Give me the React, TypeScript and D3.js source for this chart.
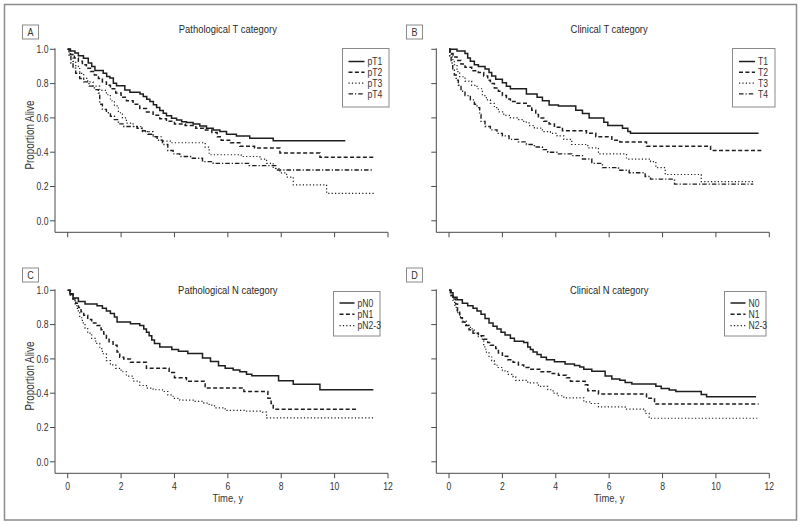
import React from "react";
import * as d3 from "d3";

type Pt = [number, number];

// ---------- data ----------
const xTicks = [0, 2, 4, 6, 8, 10, 12];
const yTicks = [0, 0.2, 0.4, 0.6, 0.8, 1.0];

const pT1: Pt[] = [[0,1],[0.1,0.99],[0.27,0.978],[0.4,0.962],[0.59,0.948],[0.77,0.92],[0.9,0.9],[1.02,0.876],[1.33,0.861],[1.46,0.841],[1.58,0.832],[1.71,0.802],[1.83,0.787],[2.14,0.763],[2.33,0.75],[2.71,0.74],[2.83,0.725],[2.96,0.709],[3.08,0.695],[3.21,0.676],[3.33,0.66],[3.45,0.643],[3.58,0.627],[3.7,0.612],[3.89,0.598],[4.08,0.588],[4.27,0.578],[4.45,0.573],[4.7,0.565],[4.95,0.553],[5.2,0.54],[5.45,0.53],[5.7,0.52],[5.95,0.505],[6.32,0.495],[6.82,0.481],[7.7,0.467],[10.4,0.467]];
const pT2: Pt[] = [[0,1],[0.1,0.97],[0.25,0.95],[0.4,0.93],[0.55,0.91],[0.7,0.89],[0.85,0.87],[1.0,0.85],[1.15,0.83],[1.3,0.81],[1.45,0.79],[1.6,0.77],[1.8,0.745],[2.0,0.72],[2.2,0.7],[2.45,0.68],[2.7,0.655],[2.95,0.635],[3.2,0.615],[3.45,0.595],[3.7,0.58],[4.0,0.565],[4.4,0.555],[4.8,0.54],[5.1,0.53],[5.4,0.515],[5.6,0.49],[5.75,0.47],[6.1,0.455],[6.45,0.435],[7.0,0.425],[7.95,0.395],[9.45,0.37],[11.5,0.37]];
const pT3: Pt[] = [[0,1],[0.1,0.97],[0.2,0.93],[0.3,0.9],[0.45,0.86],[0.6,0.83],[0.75,0.81],[0.95,0.785],[1.2,0.76],[1.45,0.735],[1.6,0.7],[1.75,0.67],[1.9,0.63],[2.05,0.6],[2.2,0.57],[2.45,0.55],[2.8,0.52],[3.2,0.49],[3.5,0.465],[3.85,0.455],[5.15,0.43],[5.3,0.385],[6.5,0.375],[7.2,0.36],[7.45,0.335],[7.7,0.305],[7.95,0.28],[8.2,0.255],[8.45,0.21],[9.7,0.16],[11.5,0.16]];
const pT4: Pt[] = [[0,1],[0.05,0.96],[0.12,0.92],[0.2,0.89],[0.3,0.86],[0.45,0.83],[0.6,0.81],[0.8,0.785],[1.0,0.765],[1.15,0.745],[1.2,0.68],[1.3,0.65],[1.45,0.63],[1.6,0.61],[1.75,0.59],[1.9,0.565],[2.1,0.55],[2.6,0.54],[2.8,0.525],[3.0,0.505],[3.2,0.49],[3.35,0.47],[3.55,0.445],[3.75,0.41],[3.95,0.39],[4.2,0.375],[4.6,0.365],[5.05,0.345],[5.45,0.335],[6.8,0.322],[7.8,0.296],[11.45,0.296]];

const cT1: Pt[] = [[0,1],[0.3,0.99],[0.6,0.975],[0.7,0.95],[0.8,0.93],[0.95,0.91],[1.1,0.9],[1.35,0.885],[1.5,0.865],[1.6,0.845],[1.75,0.825],[2.0,0.805],[2.15,0.785],[2.3,0.77],[2.9,0.74],[3.3,0.72],[3.5,0.7],[3.75,0.675],[4.1,0.67],[4.75,0.645],[5.0,0.625],[5.25,0.6],[5.8,0.575],[5.95,0.555],[6.5,0.54],[6.7,0.52],[6.8,0.51],[11.6,0.51]];
const cT2: Pt[] = [[0,1],[0.05,0.975],[0.15,0.955],[0.3,0.935],[0.45,0.915],[0.6,0.895],[0.85,0.875],[1.1,0.865],[1.3,0.845],[1.45,0.82],[1.55,0.8],[1.7,0.775],[1.85,0.755],[2.0,0.73],[2.15,0.71],[2.3,0.695],[2.55,0.685],[2.95,0.67],[3.1,0.645],[3.25,0.62],[3.35,0.6],[3.55,0.58],[3.75,0.565],[3.95,0.545],[4.25,0.525],[5.15,0.51],[5.5,0.49],[6.1,0.47],[6.4,0.46],[7.4,0.435],[9.8,0.41],[11.7,0.41]];
const cT3: Pt[] = [[0,1],[0.05,0.97],[0.12,0.94],[0.2,0.91],[0.3,0.87],[0.4,0.84],[0.6,0.815],[0.85,0.79],[1.05,0.77],[1.25,0.73],[1.4,0.705],[1.55,0.685],[1.7,0.66],[1.85,0.635],[2.05,0.615],[2.3,0.6],[2.55,0.59],[2.8,0.575],[3.0,0.555],[3.2,0.54],[3.5,0.52],[3.8,0.51],[4.05,0.495],[4.3,0.475],[4.6,0.445],[5.2,0.425],[5.6,0.39],[6.65,0.36],[7.55,0.345],[7.75,0.31],[8.1,0.27],[9.45,0.228],[11.4,0.228]];
const cT4: Pt[] = [[0,1],[0.03,0.96],[0.08,0.92],[0.14,0.88],[0.2,0.85],[0.27,0.82],[0.35,0.79],[0.45,0.755],[0.6,0.73],[0.8,0.705],[0.95,0.68],[1.05,0.66],[1.15,0.62],[1.2,0.58],[1.35,0.55],[1.55,0.53],[1.8,0.51],[2.0,0.495],[2.25,0.475],[2.6,0.46],[2.9,0.445],[3.2,0.43],[3.5,0.415],[3.7,0.4],[4.1,0.39],[4.6,0.38],[5.0,0.36],[5.35,0.335],[5.75,0.31],[6.35,0.295],[6.75,0.28],[7.35,0.258],[7.55,0.243],[8.45,0.214],[11.4,0.214]];

const pN0: Pt[] = [[0,1],[0.08,0.98],[0.2,0.955],[0.4,0.935],[0.65,0.92],[1.1,0.91],[1.3,0.895],[1.45,0.88],[1.6,0.865],[1.75,0.845],[1.85,0.815],[2.35,0.805],[2.7,0.795],[2.85,0.775],[2.95,0.755],[3.05,0.735],[3.15,0.71],[3.25,0.69],[3.45,0.67],[3.9,0.655],[4.15,0.645],[4.5,0.632],[5.05,0.605],[5.35,0.585],[5.65,0.56],[5.9,0.545],[6.2,0.535],[6.45,0.525],[6.7,0.51],[6.9,0.502],[7.9,0.472],[8.45,0.452],[9.45,0.42],[11.45,0.42]];
const pN1: Pt[] = [[0,1],[0.1,0.975],[0.2,0.95],[0.3,0.925],[0.4,0.9],[0.5,0.875],[0.6,0.855],[0.75,0.83],[0.9,0.81],[1.1,0.795],[1.25,0.77],[1.35,0.745],[1.45,0.72],[1.55,0.7],[1.7,0.68],[1.85,0.64],[1.95,0.61],[2.1,0.6],[2.35,0.58],[2.95,0.545],[3.8,0.52],[4.0,0.49],[4.45,0.47],[5.15,0.43],[6.6,0.41],[7.5,0.37],[7.62,0.34],[7.7,0.307],[10.8,0.307]];
const pN23: Pt[] = [[0,1],[0.1,0.97],[0.2,0.94],[0.28,0.91],[0.36,0.88],[0.45,0.84],[0.55,0.81],[0.65,0.78],[0.75,0.75],[0.9,0.72],[1.05,0.69],[1.2,0.66],[1.3,0.63],[1.45,0.59],[1.6,0.565],[1.8,0.545],[2.0,0.525],[2.2,0.5],[2.45,0.47],[2.7,0.445],[2.95,0.43],[3.2,0.42],[3.55,0.41],[3.75,0.39],[3.95,0.37],[4.2,0.36],[4.7,0.352],[5.1,0.342],[5.3,0.33],[5.5,0.315],[5.9,0.3],[6.7,0.295],[7.3,0.29],[7.45,0.256],[11.5,0.256]];

const cN0: Pt[] = [[0,1],[0.05,0.985],[0.15,0.96],[0.3,0.945],[0.5,0.925],[0.7,0.91],[0.9,0.895],[1.05,0.88],[1.2,0.86],[1.35,0.835],[1.5,0.81],[1.65,0.79],[1.8,0.775],[1.95,0.755],[2.1,0.74],[2.3,0.72],[2.45,0.703],[2.8,0.695],[2.95,0.67],[3.05,0.655],[3.15,0.64],[3.3,0.625],[3.45,0.61],[3.65,0.595],[3.95,0.583],[4.35,0.57],[4.7,0.562],[4.9,0.553],[5.05,0.54],[5.35,0.528],[5.85,0.5],[6.1,0.483],[6.4,0.475],[6.6,0.462],[6.85,0.453],[7.75,0.44],[7.95,0.428],[8.25,0.418],[8.5,0.41],[9.45,0.392],[9.65,0.38],[11.5,0.38]];
const cN1: Pt[] = [[0,1],[0.08,0.97],[0.15,0.95],[0.25,0.92],[0.32,0.88],[0.4,0.84],[0.5,0.815],[0.6,0.795],[0.75,0.77],[0.9,0.75],[1.1,0.735],[1.3,0.715],[1.45,0.695],[1.55,0.68],[1.75,0.66],[1.85,0.635],[2.0,0.615],[2.2,0.595],[2.4,0.58],[2.6,0.565],[2.8,0.55],[3.0,0.54],[3.4,0.525],[3.8,0.515],[4.1,0.505],[4.4,0.49],[4.55,0.47],[5.1,0.45],[5.2,0.415],[5.6,0.395],[7.4,0.37],[7.7,0.337],[11.6,0.337]];
const cN23: Pt[] = [[0,1],[0.08,0.96],[0.15,0.93],[0.22,0.9],[0.3,0.87],[0.4,0.845],[0.5,0.82],[0.65,0.795],[0.8,0.775],[0.95,0.75],[1.1,0.73],[1.25,0.705],[1.3,0.67],[1.38,0.64],[1.5,0.615],[1.6,0.59],[1.7,0.57],[1.8,0.55],[2.0,0.53],[2.2,0.51],[2.4,0.495],[2.5,0.475],[2.95,0.46],[3.35,0.44],[3.7,0.42],[3.9,0.4],[4.05,0.385],[4.3,0.373],[5.05,0.35],[5.3,0.34],[5.6,0.32],[6.6,0.307],[7.35,0.282],[7.5,0.254],[11.55,0.254]];

const namesA = ["pT1", "pT2", "pT3", "pT4"];
const namesB = ["T1", "T2", "T3", "T4"];
const namesC = ["pN0", "pN1", "pN2-3"];
const namesD = ["N0", "N1", "N2-3"];

// ---------- styling ----------
const FONT = "'Liberation Sans', Arial, sans-serif";
const SX = 0.82; // condensed look
const INK = "#1e1e1e";
const AX = "#4a4a4a";
const DASHES = [undefined, "4,2.4", "1.2,2.2", "4.5,2,1.2,2"];
const WIDTHS = [1.5, 1.5, 1.2, 1.4];

type TxtProps = { x: number; y: number; size: number; anchor?: string; rotate?: number; dy?: string; children: React.ReactNode; fill?: string };
function Txt({ x, y, size, anchor = "start", rotate = 0, dy, children, fill = "#333" }: TxtProps) {
  return (
    <text transform={`translate(${x},${y}) rotate(${rotate}) scale(${SX},1)`} textAnchor={anchor} fontSize={size} dy={dy} fill={fill}>{children}</text>
  );
}

type PanelProps = {
  ox: number; oy: number; letter: string; letterX: number; letterY: number;
  title: string; titleY: number; names: string[]; series: Pt[][];
  showY: boolean; showX: boolean;
  legend: { x: number; y: number; w: number; h: number; lx: number; rowY: number[]; lineW: number };
};

function Panel(p: PanelProps) {
  const x = d3.scaleLinear().domain([0, 12]).range([67.7 + p.ox, 388 + p.ox]);
  const y = d3.scaleLinear().domain([0, 1]).range([220.8 + p.oy, 49.3 + p.oy]);
  const axisX = 55 + p.ox;
  const axisY = 232.3 + p.oy;
  const line = d3.line<Pt>().x(d => x(d[0])).y(d => y(d[1])).curve(d3.curveStepAfter);
  const fmt = d3.format(".1f");
  const cx = (x(0) + x(12)) / 2;
  return (
    <g>
      <rect x={p.letterX} y={p.letterY} width={16} height={14} fill="white" stroke="#8a8a8a" strokeWidth={1} />
      <Txt x={p.letterX + 8} y={p.letterY + 11} anchor="middle" size={11}>{p.letter}</Txt>
      <Txt x={cx} y={p.titleY} anchor="middle" size={11.5} fill="#2a2a2a">{p.title}</Txt>
      <line x1={axisX} x2={axisX} y1={y(1) - 1} y2={axisY} stroke={AX} strokeWidth={1} />
      <line x1={axisX} x2={x(12)} y1={axisY} y2={axisY} stroke={AX} strokeWidth={1} />
      {yTicks.map(t => (
        <g key={"y" + t}>
          <line x1={axisX - 5} x2={axisX} y1={y(t)} y2={y(t)} stroke={AX} strokeWidth={1} />
          {p.showY && <Txt x={axisX - 6.5} y={y(t)} dy="0.36em" anchor="end" size={10.5}>{fmt(t)}</Txt>}
        </g>
      ))}
      {xTicks.map(t => (
        <g key={"x" + t}>
          <line x1={x(t)} x2={x(t)} y1={axisY} y2={axisY + 5} stroke={AX} strokeWidth={1} />
          {p.showX && <Txt x={x(t)} y={axisY + 16.5} anchor="middle" size={10.5}>{t}</Txt>}
        </g>
      ))}
      {p.showY && (
        <Txt x={34} y={(y(0) + y(1)) / 2} rotate={-90} anchor="middle" size={12}>Proportion Alive</Txt>
      )}
      {p.showX && (
        <Txt x={cx} y={axisY + 28.5} anchor="middle" size={11.5}>Time, y</Txt>
      )}
      {p.series.map((s, i) => (
        <path key={"s" + i} d={line(s) || ""} fill="none" stroke={INK} strokeWidth={WIDTHS[i]} strokeDasharray={DASHES[i]} />
      ))}
      <rect x={p.legend.x} y={p.legend.y} width={p.legend.w} height={p.legend.h} fill="white" stroke="#8a8a8a" strokeWidth={1} />
      {p.names.map((n, i) => (
        <g key={"l" + n}>
          <line x1={p.legend.lx} x2={p.legend.lx + p.legend.lineW} y1={p.legend.rowY[i]} y2={p.legend.rowY[i]} stroke={INK} strokeWidth={WIDTHS[i]} strokeDasharray={DASHES[i]} />
          <Txt x={p.legend.lx + p.legend.lineW + 3} y={p.legend.rowY[i]} dy="0.36em" size={10.5}>{n}</Txt>
        </g>
      ))}
    </g>
  );
}

export default function App() {
  const R = 381.3;
  const B = 241;
  return (
    <svg width={800} height={525} style={{ position: "absolute", left: 0, top: 0, background: "white" }} fontFamily={FONT}>
      <rect x={0} y={0} width={800} height={525} fill="white" />
      <rect x={4.5} y={4.5} width={792} height={515.5} fill="none" stroke="#8c8c8c" strokeWidth={1.5} />
      <Panel ox={0} oy={0} letter="A" letterX={22.5} letterY={25} title="Pathological T category" titleY={33.3}
        names={namesA} series={[pT1, pT2, pT3, pT4]} showY={true} showX={false}
        legend={{ x: 342.5, y: 48.5, w: 46.5, h: 58.5, lx: 348.5, rowY: [61.5, 72.3, 83.1, 93.9], lineW: 16 }} />
      <Panel ox={R} oy={0} letter="B" letterX={406.5} letterY={25} title="Clinical T category" titleY={33.3}
        names={namesB} series={[cT1, cT2, cT3, cT4]} showY={false} showX={false}
        legend={{ x: 732.5, y: 48.5, w: 42.5, h: 58.5, lx: 739, rowY: [61.5, 72.3, 83.1, 93.9], lineW: 16 }} />
      <Panel ox={0} oy={B} letter="C" letterX={22.5} letterY={268} title="Pathological N category" titleY={294}
        names={namesC} series={[pN0, pN1, pN23]} showY={true} showX={true}
        legend={{ x: 333.5, y: 291.5, w: 46.5, h: 44.5, lx: 339.5, rowY: [303, 314.3, 325.6], lineW: 15 }} />
      <Panel ox={R} oy={B} letter="D" letterX={406.5} letterY={268} title="Clinical N category" titleY={294}
        names={namesD} series={[cN0, cN1, cN23]} showY={false} showX={true}
        legend={{ x: 724.5, y: 291.5, w: 41.5, h: 44.5, lx: 730.5, rowY: [303, 314.3, 325.6], lineW: 15 }} />
    </svg>
  );
}
